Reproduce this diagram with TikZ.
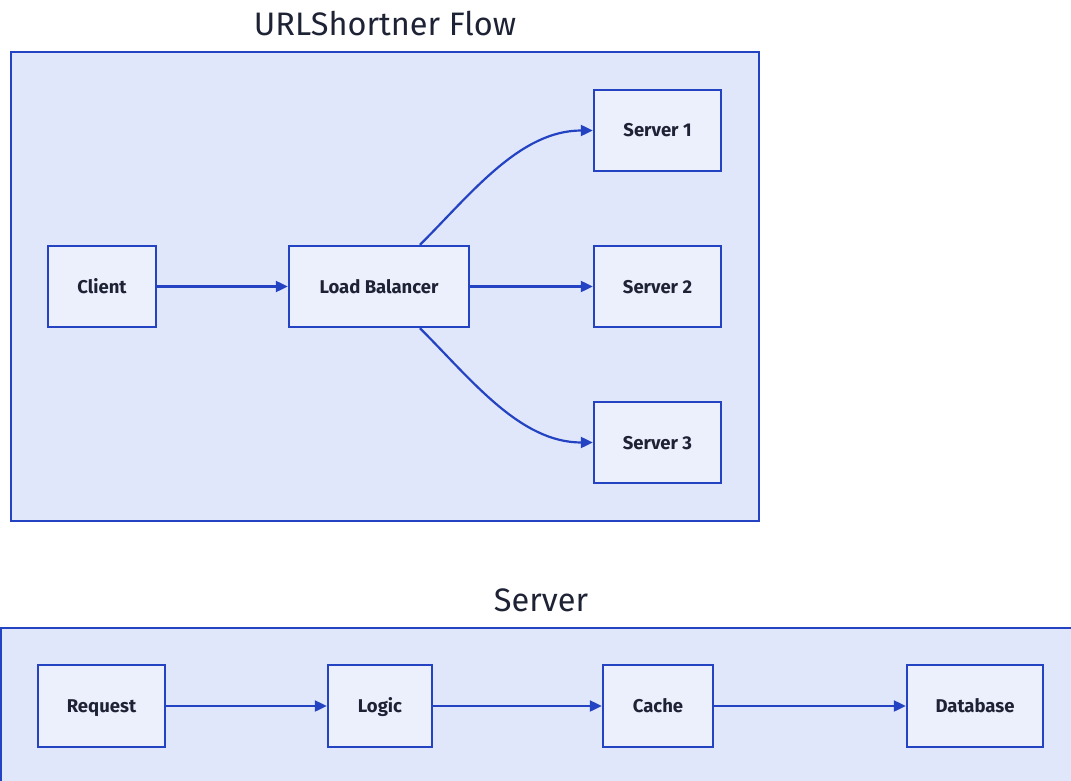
\documentclass[tikz,border=0pt]{standalone}
\usepackage{fontspec}
\setmainfont{Fira Sans}
\usetikzlibrary{arrows.meta}
\definecolor{cfill}{HTML}{E0E7FA}
\definecolor{nfill}{HTML}{ECF0FC}
\definecolor{edge}{HTML}{2443C2}
\definecolor{txt}{HTML}{1E2235}
\tikzset{
  container/.style={draw=edge, fill=cfill, line width=2.4pt},
  box/.style={draw=edge, fill=nfill, line width=2.4pt, text=txt, font=\fontsize{18.5}{20}\selectfont\bfseries, inner sep=0pt, text height=13pt, text depth=0pt},
  title/.style={text=txt, font=\fontsize{32.5}{36}\selectfont},
  conn/.style={draw=edge, line width=2.2pt, -{Triangle[length=12pt,width=11pt]}}
}
\begin{document}
\begin{tikzpicture}[x=1pt,y=1pt]
\clip (0,0) rectangle (1071,-781);
\fill[white] (0,0) rectangle (1071,-781);
% top container
\node[title] (t1) at (385,-24) {URLShortner Flow};
\draw[container] (11,-52) rectangle (759,-521);
\node[box, minimum width=108pt, minimum height=81pt] (client) at (102,-286.5) {Client};
\node[box, minimum width=180pt, minimum height=81pt] (lb) at (379,-286.5) {Load Balancer};
\node[box, minimum width=127pt, minimum height=81pt] (s1) at (657.5,-130.5) {Server 1};
\node[box, minimum width=127pt, minimum height=81pt] (s2) at (657.5,-286.5) {Server 2};
\node[box, minimum width=127pt, minimum height=81pt] (s3) at (657.5,-442.5) {Server 3};
\draw[conn] (client) -- (lb);
\draw[conn] (lb) -- (s2);
\draw[conn] ([xshift=41pt]lb.north) to[out=45,in=180,looseness=0.9] (s1.west);
\draw[conn] ([xshift=41pt]lb.south) to[out=-45,in=180,looseness=0.9] (s3.west);
% bottom container
\node[title] (t2) at (541,-600) {Server};
\draw[container] (1,-628) rectangle (1090,-800);
\node[box, minimum width=127pt, minimum height=82pt] (req) at (101.5,-706) {Request};
\node[box, minimum width=104pt, minimum height=82pt] (logic) at (380,-706) {Logic};
\node[box, minimum width=110pt, minimum height=82pt] (cache) at (658,-706) {Cache};
\node[box, minimum width=136pt, minimum height=82pt] (db) at (975,-706) {Database};
\draw[conn] (req) -- (logic);
\draw[conn] (logic) -- (cache);
\draw[conn] (cache) -- (db);
\end{tikzpicture}
\end{document}
